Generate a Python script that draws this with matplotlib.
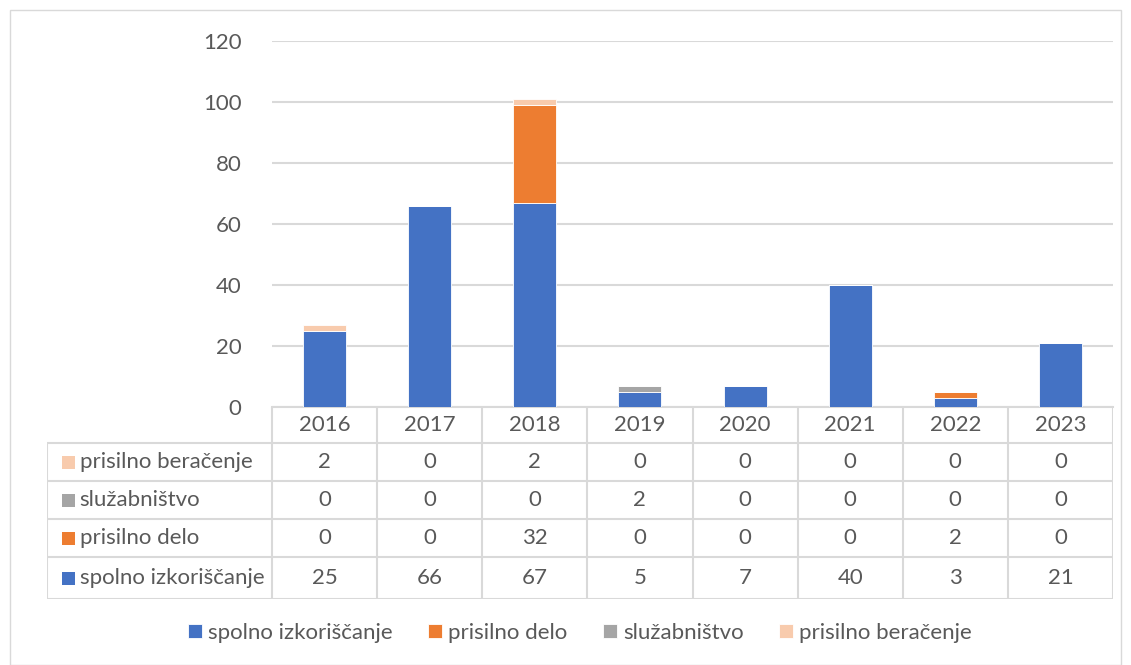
import matplotlib.pyplot as plt
import numpy as np
from matplotlib.patches import Rectangle

years = ['2016', '2017', '2018', '2019', '2020', '2021', '2022', '2023']
series_names = ['spolno izkoriščanje', 'prisilno delo', 'služabništvo', 'prisilno beračenje']
spolno = [25, 66, 67, 5, 7, 40, 3, 21]
delo = [0, 0, 32, 0, 0, 0, 2, 0]
sluzabnistvo = [0, 0, 0, 2, 0, 0, 0, 0]
beracenje = [2, 0, 2, 0, 0, 0, 0, 0]
colors = ['#4472C4', '#ED7D31', '#A5A5A5', '#F8CBAD']
yticks = [0, 20, 40, 60, 80, 100, 120]

plt.rcParams['font.family'] = ['Lato', 'DejaVu Sans']
txt = '#595959'
grid = '#D9D9D9'
fs = 16
W, H = 1131, 665

fig = plt.figure(figsize=(W / 100, H / 100), dpi=100)

# outer chart frame
fig.patches.append(Rectangle((10 / W, 0), 1111 / W, 1 - 10 / H, transform=fig.transFigure,
                             fill=False, edgecolor=grid, lw=1))

ax = fig.add_axes([272 / W, (H - 407) / H, (1113 - 272) / W, (407 - 41) / H])
x = np.arange(len(years))
data = [spolno, delo, sluzabnistvo, beracenje]
bottom = np.zeros(len(years))
for vals, name, c in zip(data, series_names, colors):
    ax.bar(x, vals, 0.41, bottom=bottom, color=c, edgecolor='white', linewidth=0.6, label=name, zorder=3)
    bottom += np.array(vals)

ax.set_xlim(-0.5, len(years) - 0.5)
ax.set_ylim(0, 120)
ax.set_yticks(yticks)
ax.set_yticklabels([str(v) for v in yticks], fontsize=fs, color=txt)
ax.tick_params(axis='y', length=0, pad=22)
ax.set_xticks([])
ax.grid(axis='y', color=grid, lw=1.5, zorder=0)
for s in ['top', 'right', 'left']:
    ax.spines[s].set_visible(False)
ax.spines['bottom'].set_color(grid)
ax.spines['bottom'].set_linewidth(1.5)

# data table below the plot
tab = fig.add_axes([47 / W, (H - 599) / H, (1113 - 47) / W, (599 - 407) / H])
lab_w = (272 - 47) / ((1113 - 272) / len(years))
x0 = -0.5 - lab_w
tab.set_xlim(x0, len(years) - 0.5)
rows = [0, 36, 74, 112, 150, 192]
tab.set_ylim(rows[-1], 0)
tab.axis('off')

lk = dict(color=grid, lw=1.5, solid_capstyle='butt')
# header row vertical lines
for i in range(len(years) + 1):
    tab.plot([i - 0.5, i - 0.5], [rows[0], rows[-1]], **lk)
tab.plot([x0, x0], [rows[1], rows[-1]], **lk)
for r in rows[1:]:
    tab.plot([x0, len(years) - 0.5], [r, r], **lk)

for i, yr in enumerate(years):
    tab.text(i, (rows[0] + rows[1]) / 2, yr, ha='center', va='center', fontsize=fs, color=txt)

table_order = [3, 2, 1, 0]
for k, si in enumerate(table_order):
    yc = (rows[k + 1] + rows[k + 2]) / 2
    tab.add_patch(Rectangle((x0 + 0.14, yc - 6.5), 0.125, 13, color=colors[si], lw=0))
    tab.text(x0 + 0.31, yc, series_names[si], ha='left', va='center', fontsize=fs, color=txt)
    for i in range(len(years)):
        tab.text(i, yc, str(data[si][i]), ha='center', va='center', fontsize=fs, color=txt)

handles, labels = ax.get_legend_handles_labels()
fig.legend(handles, labels, loc='center', bbox_to_anchor=(580 / W, (H - 633) / H), ncol=4,
           frameon=False, fontsize=fs, labelcolor=txt, handlelength=0.63, handleheight=0.63,
           handletextpad=0.27, columnspacing=1.6)

fig.savefig('out.png', dpi=100)
